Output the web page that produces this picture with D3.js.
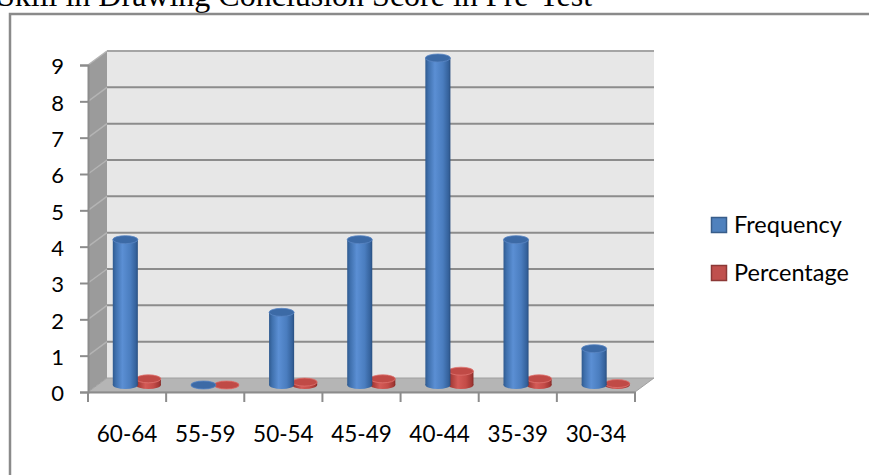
<!DOCTYPE html>
<html>
<head>
<meta charset="utf-8">
<script src="https://cdn.jsdelivr.net/npm/d3@7"></script>
<style>
  body { margin: 0; background: #fff; overflow: hidden; }
  svg { display: block; }
</style>
</head>
<body>
<div id="chart-area"></div>
<script>
// data
const categories = ['60-64', '55-59', '50-54', '45-49', '40-44', '35-39', '30-34'];
const seriesNames = ['Frequency', 'Percentage'];
const frequency = [4, 0, 2, 4, 9, 4, 1];
const percentage = [0.17, 0, 0.08, 0.17, 0.38, 0.17, 0.04];
const yTicks = [0, 1, 2, 3, 4, 5, 6, 7, 8, 9];

const W = 869, H = 475;
// depth of the 3d box (back wall offset)
const DX = 19, DY = -14;
const font = 'Lato, "Open Sans", sans-serif';

const svg = d3.select('#chart-area')
  .append('svg')
  .attr('width', W)
  .attr('height', H);

const defs = svg.append('defs');

// cylinder shading
function cylGradient(id, stops) {
  const g = defs.append('linearGradient')
    .attr('id', id)
    .attr('x1', '0%').attr('x2', '100%')
    .attr('y1', '0%').attr('y2', '0%');
  stops.forEach(s => g.append('stop').attr('offset', s[0]).attr('stop-color', s[1]));
}
cylGradient('blueBody', [['0%', '#2f5a8f'], ['12%', '#3f70ad'], ['38%', '#5b8fd4'], ['70%', '#4a7dbf'], ['92%', '#35629c'], ['100%', '#294f80']]);
cylGradient('redBody', [['0%', '#8e2c29'], ['12%', '#aa3d39'], ['38%', '#d45b57'], ['70%', '#c44c48'], ['92%', '#a33835'], ['100%', '#862a27']]);

const colors = {
  Frequency: {body: 'url(#blueBody)', top: '#3c6aa6', rim: '#5a87c4'},
  Percentage: {body: 'url(#redBody)', top: '#c04a46', rim: '#e07470'}
};

// scales
const x = d3.scaleBand()
  .domain(categories)
  .range([88, 635]);

const xSub = d3.scaleBand()
  .domain(seriesNames)
  .range([x.bandwidth() * 0.33 - DX / 2, x.bandwidth() * 0.92 - DX / 2]);

const y = d3.scaleLinear()
  .domain([0, 9])
  .range([392, 65]);

// title (cut off at the top of the picture)
svg.append('text')
  .attr('x', -3)
  .attr('y', 6)
  .attr('font-family', '"Liberation Serif", "Times New Roman", serif')
  .attr('font-size', '32px')
  .attr('fill', '#000')
  .text('Skill in Drawing Conclusion Score in Pre-Test');

// chart frame
svg.append('rect')
  .attr('x', 10)
  .attr('y', 14)
  .attr('width', 900)
  .attr('height', 500)
  .attr('fill', 'none')
  .attr('stroke', '#8a8a8a')
  .attr('stroke-width', 2.5);

const x0 = x.range()[0], x1 = x.range()[1];
const y0 = y(0), yTop = y(9);

// back wall
svg.append('rect')
  .attr('x', x0 + DX)
  .attr('y', yTop + DY)
  .attr('width', x1 - x0)
  .attr('height', y0 - yTop)
  .attr('fill', '#e7e7e7');

// side wall
svg.append('polygon')
  .attr('points', [[x0, yTop], [x0 + DX, yTop + DY], [x0 + DX, y0 + DY], [x0, y0]].join(' '))
  .attr('fill', '#9b9b9b');

// gridlines on back and side wall
const grid = svg.append('g');
grid.selectAll('.grid-back')
  .data(yTicks.slice(1))
  .enter()
  .append('line')
  .attr('x1', x0 + DX)
  .attr('x2', x1 + DX)
  .attr('y1', d => y(d) + DY)
  .attr('y2', d => y(d) + DY)
  .attr('stroke', d => d === 9 ? '#a5a5a5' : '#8c8c8c')
  .attr('stroke-width', 2);
grid.selectAll('.grid-side')
  .data(yTicks.slice(1))
  .enter()
  .append('line')
  .attr('x1', x0)
  .attr('x2', x0 + DX)
  .attr('y1', d => y(d))
  .attr('y2', d => y(d) + DY)
  .attr('stroke', '#b4b4b4')
  .attr('stroke-width', 1.5);

// floor
svg.append('polygon')
  .attr('points', [[x0, y0], [x1, y0], [x1 + DX, y0 + DY], [x0 + DX, y0 + DY]].join(' '))
  .attr('fill', '#b5b5b5')
  .attr('stroke', '#a0a0a0')
  .attr('stroke-width', 1);

// y axis
const yAxis = svg.append('g')
  .attr('transform', `translate(${x0}, 0)`)
  .call(d3.axisLeft(y).tickValues(yTicks).tickSize(8).tickPadding(16).tickFormat(d3.format('d')));
yAxis.select('.domain').attr('stroke', '#8c8c8c').attr('stroke-width', 2);
yAxis.selectAll('.tick line').attr('stroke', '#8c8c8c').attr('stroke-width', 2);
yAxis.selectAll('.tick text')
  .attr('font-family', font)
  .attr('font-size', '22px')
  .attr('fill', '#000')
  .attr('dy', '0.4em');

// x axis: labels centred in bands, ticks at band edges
const xAxis = svg.append('g')
  .attr('transform', `translate(0, ${y0})`)
  .call(d3.axisBottom(x).tickSize(0).tickPadding(34));
xAxis.select('.domain').attr('stroke', '#8c8c8c').attr('stroke-width', 2);
xAxis.selectAll('.tick text')
  .attr('font-family', font)
  .attr('font-size', '22.5px')
  .attr('fill', '#000');
xAxis.selectAll('.edge')
  .data(d3.range(categories.length + 1))
  .enter()
  .append('line')
  .attr('x1', i => x0 + i * x.step())
  .attr('x2', i => x0 + i * x.step())
  .attr('y1', 0)
  .attr('y2', 10)
  .attr('stroke', '#8c8c8c')
  .attr('stroke-width', 2);

// cylinders, placed at half depth of the floor
const bars = [];
categories.forEach((c, i) => {
  bars.push({cat: c, name: 'Percentage', value: percentage[i]});
  bars.push({cat: c, name: 'Frequency', value: frequency[i]});
});

const cylW = xSub.bandwidth() + 2;
const ry = 4;

const cyl = svg.selectAll('.cyl')
  .data(bars)
  .enter()
  .append('g')
  .attr('class', 'cyl')
  .attr('transform', d => `translate(${x(d.cat) + xSub(d.name) + xSub.bandwidth() / 2 + DX / 2}, ${DY / 2})`);

cyl.append('ellipse')
  .attr('cx', 0)
  .attr('cy', y(0))
  .attr('rx', cylW / 2)
  .attr('ry', ry)
  .attr('fill', d => colors[d.name].body);

cyl.append('rect')
  .attr('x', -cylW / 2)
  .attr('y', d => y(d.value))
  .attr('width', cylW)
  .attr('height', d => y(0) - y(d.value))
  .attr('fill', d => colors[d.name].body);

cyl.append('ellipse')
  .attr('cx', 0)
  .attr('cy', d => y(d.value))
  .attr('rx', cylW / 2)
  .attr('ry', ry)
  .attr('fill', d => colors[d.name].top)
  .attr('stroke', d => colors[d.name].rim)
  .attr('stroke-width', 0.8);

// legend
const legend = svg.append('g')
  .attr('transform', 'translate(711, 217)');

const item = legend.selectAll('.item')
  .data(seriesNames)
  .enter()
  .append('g')
  .attr('transform', (d, i) => `translate(0, ${i * 48})`);

item.append('rect')
  .attr('x', 0.5)
  .attr('y', 0.5)
  .attr('width', 15)
  .attr('height', 15)
  .attr('fill', d => d === 'Frequency' ? '#4f81bd' : '#c0504d')
  .attr('stroke', d => d === 'Frequency' ? '#385d8a' : '#8c3836')
  .attr('stroke-width', 1.5);

item.append('text')
  .attr('x', 23)
  .attr('y', 16)
  .attr('font-family', font)
  .attr('font-size', '23.5px')
  .attr('fill', '#000')
  .text(d => d);
</script>
</body>
</html>
